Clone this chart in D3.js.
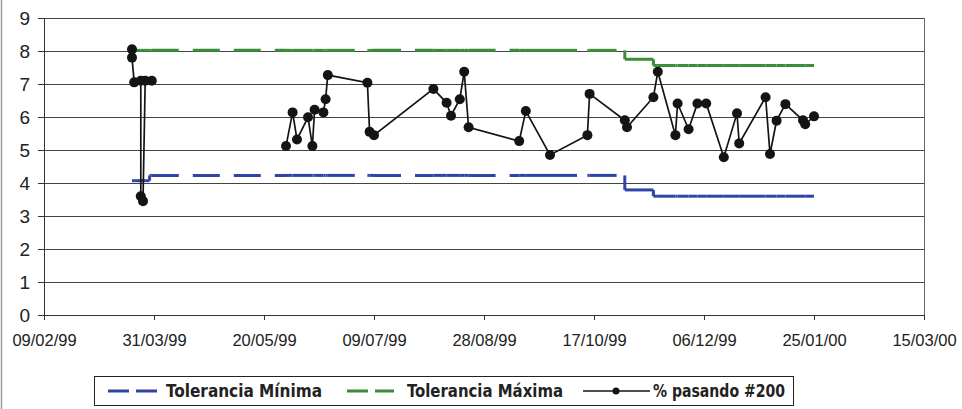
<!DOCTYPE html>
<html><head><meta charset="utf-8">
<script src="https://cdn.jsdelivr.net/npm/d3@7"></script>
<style>body{margin:0;background:#fff}svg{display:block}</style>
</head><body><svg id="c" width="962" height="409"></svg>
<script>
// null = empty cell (gap in the line)
const sampleDates = ["21/03/99","21/03/99","22/03/99","25/03/99","25/03/99","26/03/99","27/03/99","30/03/99",
"30/04/99",
"30/05/99","02/06/99","04/06/99","09/06/99","11/06/99","12/06/99","16/06/99","17/06/99","18/06/99",
"06/07/99","07/07/99","09/07/99","05/08/99","11/08/99","13/08/99","17/08/99","19/08/99","21/08/99",
"13/09/99","16/09/99","27/09/99","14/10/99","15/10/99","31/10/99","01/11/99","13/11/99","15/11/99",
"23/11/99","24/11/99","29/11/99","03/12/99","07/12/99","15/12/99","21/12/99","22/12/99",
"03/01/00","05/01/00","08/01/00","12/01/00","20/01/00","21/01/00","25/01/00"];
const passing200 = [8.05,7.80,7.05,7.10,3.60,3.45,7.10,7.10,
null,
5.12,6.14,5.32,5.99,5.12,6.22,6.14,6.54,7.27,
7.04,5.55,5.45,6.85,6.43,6.04,6.54,7.37,5.69,
5.27,6.18,4.85,5.45,6.70,5.90,5.69,6.60,7.37,
5.45,6.41,5.63,6.41,6.41,4.78,6.11,5.20,
6.60,4.88,5.89,6.39,5.90,5.78,6.02];

const tolDates = ["21/03/99","22/03/99","25/03/99","26/03/99","27/03/99","29/03/99","29/03/99","30/03/99",
"30/05/99","02/06/99","04/06/99","09/06/99","11/06/99","12/06/99","16/06/99","17/06/99","18/06/99",
"06/07/99","07/07/99","09/07/99","05/08/99","11/08/99","13/08/99","17/08/99","19/08/99","21/08/99",
"13/09/99","16/09/99","27/09/99","14/10/99","15/10/99","31/10/99","31/10/99","01/11/99",
"13/11/99","13/11/99","15/11/99","23/11/99","24/11/99","29/11/99","03/12/99","07/12/99",
"15/12/99","21/12/99","22/12/99","03/01/00","05/01/00","08/01/00","12/01/00","20/01/00","21/01/00","25/01/00"];
const tolMin = [4.07,4.07,4.07,4.07,4.07,4.07,
4.23,4.23,4.23,4.23,4.23,4.23,4.23,4.23,4.23,4.23,4.23,4.23,4.23,4.23,4.23,4.23,4.23,4.23,4.23,4.23,4.23,4.23,4.23,4.23,4.23,4.23,
3.79,3.79,3.79,
3.60,3.60,3.60,3.60,3.60,3.60,3.60,3.60,3.60,3.60,3.60,3.60,3.60,3.60,3.60,3.60,3.60];
const tolMax = [8.02,8.02,8.02,8.02,8.02,8.02,8.02,8.02,8.02,8.02,8.02,8.02,8.02,8.02,8.02,8.02,
8.02,8.02,8.02,8.02,8.02,8.02,8.02,8.02,8.02,8.02,8.02,8.02,8.02,8.02,8.02,8.02,
7.75,7.75,7.75,
7.56,7.56,7.56,7.56,7.56,7.56,7.56,7.56,7.56,7.56,7.56,7.56,7.56,7.56,7.56,7.56,7.56];

const yTicks = [0,1,2,3,4,5,6,7,8,9];
const xTickLabels = ["09/02/99","31/03/99","20/05/99","09/07/99","28/08/99","17/10/99","06/12/99","25/01/00","15/03/00"];
const legendLabels = ["Tolerancia Mínima","Tolerancia Máxima","% pasando #200"];
const colMin = "#2f44a6", colMax = "#3a8d3a", colData = "#141414";

const parse = d3.utcParse("%d/%m/%y");
const fmt = d3.utcFormat("%d/%m/%y");
const svg = d3.select("#c");
const L = 44, R = 924, T = 18, B = 315;
const x = d3.scaleUtc().domain([parse(xTickLabels[0]), parse(xTickLabels[xTickLabels.length-1])]).range([L, R]);
const y = d3.scaleLinear().domain([0, 9]).range([B, T]);

// outer left border
svg.append("line").attr("x1",1.5).attr("x2",1.5).attr("y1",0).attr("y2",409).attr("stroke","#9a9a9a").attr("stroke-width",1.5);

// gridlines
svg.append("g").attr("transform",`translate(${L},0)`)
  .call(d3.axisLeft(y).tickValues(yTicks).tickSize(-(R-L)).tickFormat(""))
  .call(g=>g.select(".domain").remove())
  .call(g=>g.selectAll("line").attr("stroke","#444").attr("stroke-width",1));
// right border
svg.append("line").attr("x1",R+0.5).attr("x2",R+0.5).attr("y1",T).attr("y2",B).attr("stroke","#666");

// y axis
const ya = svg.append("g").attr("transform",`translate(${L},0)`)
  .call(d3.axisLeft(y).tickValues(yTicks).tickSize(6).tickPadding(8).tickFormat(d3.format("d")));
ya.select(".domain").attr("stroke","#333");
ya.selectAll("line").attr("stroke","#333");
ya.selectAll("text").attr("font-family","Arial, 'Liberation Sans', sans-serif").attr("font-size",19).attr("fill","#222");

// x axis
const xa = svg.append("g").attr("transform",`translate(0,${B})`)
  .call(d3.axisBottom(x).tickValues(xTickLabels.map(parse)).tickSize(5).tickFormat(fmt));
xa.select(".domain").attr("stroke","#333");
xa.selectAll("line").attr("stroke","#333");
xa.selectAll("text").attr("font-family","Arial, 'Liberation Sans', sans-serif").attr("font-size",16.5)
  .attr("fill","#222").attr("y",31).attr("dy","0");

// tolerance lines: dash pattern restarts at every node
function tolSegs(vals){
  const s = [];
  for (let i = 0; i < tolDates.length - 1; i++) s.push([tolDates[i], vals[i], tolDates[i+1], vals[i+1]]);
  return s;
}
[[tolMin, colMin],[tolMax, colMax]].forEach(([vals, col]) => {
  svg.append("g").selectAll("line").data(tolSegs(vals)).join("line")
    .attr("x1", d => x(parse(d[0]))).attr("y1", d => y(d[1]))
    .attr("x2", d => x(parse(d[2]))).attr("y2", d => y(d[3]))
    .attr("stroke", col).attr("stroke-width", 3).attr("stroke-dasharray","27,14");
});

// data series
const pts = sampleDates.map((d,i)=>({d:parse(d), v:passing200[i]}));
svg.append("path").datum(pts)
  .attr("d", d3.line().defined(p=>p.v!=null).x(p=>x(p.d)).y(p=>y(p.v)))
  .attr("fill","none").attr("stroke",colData).attr("stroke-width",1.7);
svg.append("g").selectAll("circle").data(pts.filter(p=>p.v!=null)).join("circle")
  .attr("cx",p=>x(p.d)).attr("cy",p=>y(p.v)).attr("r",5).attr("fill",colData);

// legend
const lg = svg.append("g");
lg.append("rect").attr("x",94.5).attr("y",376.5).attr("width",699).attr("height",29)
  .attr("fill","#fff").attr("stroke","#222").attr("stroke-width",1);
const ly = 391;
[[108,129],[136,157]].forEach(s=>lg.append("line").attr("x1",s[0]).attr("x2",s[1]).attr("y1",ly).attr("y2",ly).attr("stroke",colMin).attr("stroke-width",3));
[[347,368],[375,394]].forEach(s=>lg.append("line").attr("x1",s[0]).attr("x2",s[1]).attr("y1",ly).attr("y2",ly).attr("stroke",colMax).attr("stroke-width",3));
lg.append("line").attr("x1",583).attr("x2",650).attr("y1",ly).attr("y2",ly).attr("stroke",colData).attr("stroke-width",1.6);
lg.append("circle").attr("cx",616).attr("cy",ly).attr("r",3.5).attr("fill",colData);
const lt = [[166,156],[407,156],[653,132]];
legendLabels.forEach((t,i)=>{
  lg.append("text").attr("x",lt[i][0]).attr("y",ly+6).text(t)
    .attr("font-family","'Liberation Sans Narrow','Arial Narrow','DejaVu Sans Condensed',Arial,sans-serif")
    .attr("font-weight","bold").attr("font-size",17).attr("fill","#222")
    .attr("textLength",lt[i][1]).attr("lengthAdjust","spacingAndGlyphs");
});
</script></body></html>
